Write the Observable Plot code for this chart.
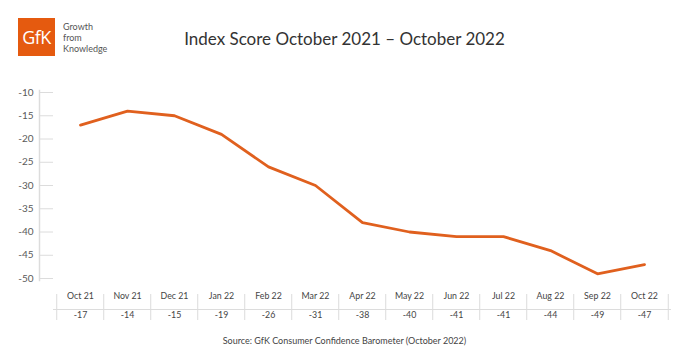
<!DOCTYPE html>
<html>
<head>
<meta charset="utf-8">
<script src="https://cdn.jsdelivr.net/npm/d3@7"></script>
<script src="https://cdn.jsdelivr.net/npm/@observablehq/plot@0.6"></script>
<style>
  html, body { margin: 0; padding: 0; background: #fff; }
  body { width: 685px; height: 355px; position: relative; overflow: hidden; font-family: Lato, "Open Sans", sans-serif; }
  #chart { position: absolute; left: 0; top: 0; }
  #logo { position: absolute; left: 18px; top: 18px; width: 37px; height: 38px; background: #e55a0f; color: #fff;
          font-family: "Open Sans", Lato, sans-serif; font-size: 18px; line-height: 38px; text-align: center; letter-spacing: -0.5px; }
  #tag { position: absolute; left: 63px; top: 21px; font-size: 9px; line-height: 11px; color: #555; }
  #title { position: absolute; left: 0; width: 685px; top: 28px; text-align: center; font-size: 17px; color: #333; padding-left: 2px; }
  #source { position: absolute; left: 0; width: 685px; top: 335px; text-align: center; font-size: 9px; color: #444; padding-left: 2px; }
</style>
</head>
<body>
<div id="logo">GfK</div>
<div id="tag">Growth<br>from<br>Knowledge</div>
<div id="title">Index Score October 2021 – October 2022</div>
<div id="chart"></div>
<div id="source">Source: GfK Consumer Confidence Barometer (October 2022)</div>
<script>
const months = ["Oct 21","Nov 21","Dec 21","Jan 22","Feb 22","Mar 22","Apr 22","May 22","Jun 22","Jul 22","Aug 22","Sep 22","Oct 22"];
const scores = [-17, -14, -15, -19, -26, -30, -38, -40, -41, -41, -44, -49, -47];
const tableLabels = ["-17","-14","-15","-19","-26","-31","-38","-40","-41","-41","-44","-49","-47"];
const yTicks = [-10, -15, -20, -25, -30, -35, -40, -45, -50];

const data = months.map((m, i) => ({month: m, score: scores[i], label: tableLabels[i]}));

const W = 685, H = 330, mL = 39, mR = 14, mT = 92, mB = 52;
const colL = 53, colR = W - mR;
const step = (colR - colL) / months.length;
const frameH = H - mT - mB;
const gridColor = "#dcdcdc";

const chart = Plot.plot({
  width: W, height: H,
  marginLeft: mL, marginRight: mR, marginTop: mT, marginBottom: mB,
  style: {fontFamily: "Lato, 'Open Sans', sans-serif", background: "transparent"},
  x: {type: "point", domain: months, range: [colL, colR], padding: 0.5, axis: null, label: null},
  y: {domain: [-50, -10], ticks: yTicks, axis: null, label: null},
  marks: [
    Plot.gridY(yTicks, {stroke: gridColor, strokeOpacity: 1, strokeWidth: 1, insetRight: colR - colL}),
    Plot.axisY(yTicks, {tickSize: 0, tickPadding: 6, tickFormat: d => String(d), fill: "#5a5a5a", fontSize: 10, label: null}),
    Plot.frame({anchor: "left", stroke: gridColor, strokeWidth: 1.5, insetTop: -2, insetBottom: -2}),
    Plot.line(data, {x: "month", y: "score", stroke: "#e0601e", strokeWidth: 2.8, curve: "linear"}),
    // table separators
    Plot.ruleX(data, {x: "month", dx: -step / 2, stroke: gridColor, insetTop: frameH + 16, insetBottom: -42}),
    Plot.ruleX(data.slice(-1), {x: "month", dx: step / 2, stroke: gridColor, insetTop: frameH + 16, insetBottom: -42}),
    Plot.ruleY([-50], {dy: 31, stroke: gridColor, insetLeft: colL - mL, insetRight: 0}),
    Plot.text(data, {x: "month", text: "month", frameAnchor: "bottom", dy: 20, fill: "#444", fontSize: 8.8}),
    Plot.text(data, {x: "month", text: "label", frameAnchor: "bottom", dy: 39, fill: "#444", fontSize: 8.8})
  ]
});
document.getElementById("chart").appendChild(chart);
</script>
</body>
</html>
